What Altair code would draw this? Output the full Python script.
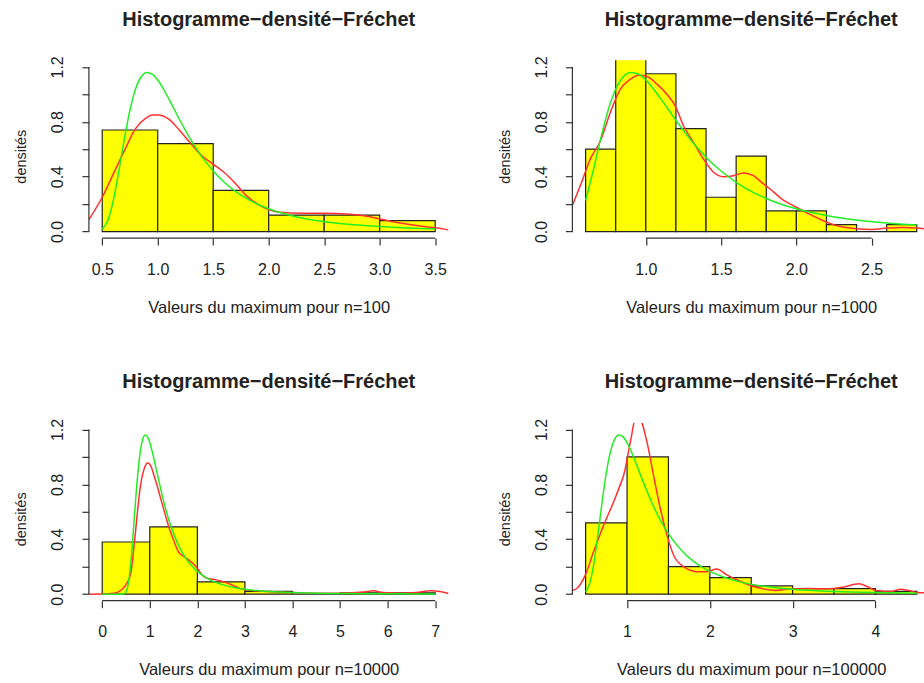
import altair as alt
import pandas as pd

FONT = "Liberation Sans"
TITLE = "Histogramme−densité−Fréchet"
Y_TITLE = "densités"

y_ticks = [0.0, 0.2, 0.4, 0.6, 0.8, 1.0, 1.2]
y_domain = [-0.048, 1.248]

# Green curve (theoretical density)
green_x = [0.0, 0.3, 0.4, 0.45, 0.5, 0.55, 0.6, 0.65, 0.7, 0.75, 0.8, 0.85, 0.9, 0.95, 1.0, 1.05,
           1.1, 1.2, 1.3, 1.4, 1.5, 1.6, 1.7, 1.8, 1.9, 2.0, 2.2, 2.4, 2.6, 2.8, 3.0, 3.25, 3.5,
           4.0, 4.5, 5.0, 5.5, 6.0, 6.5, 7.0]
green_y = [0.0, 0.0, 0.0, 0.001, 0.016, 0.080, 0.226, 0.441, 0.677, 0.886, 1.039, 1.128, 1.160,
           1.148, 1.104, 1.041, 0.967, 0.811, 0.666, 0.542, 0.441, 0.359, 0.293, 0.241, 0.199,
           0.166, 0.117, 0.084, 0.062, 0.047, 0.036, 0.026, 0.0195, 0.0115, 0.0072, 0.0048,
           0.0033, 0.0023, 0.0017, 0.0012]

# Panel 1 : n=100
p1_breaks = [0.5, 1.0, 1.5, 2.0, 2.5, 3.0, 3.5]
p1_dens = [0.74, 0.64, 0.30, 0.12, 0.12, 0.08]
p1_red_x = [0.38, 0.5, 0.6, 0.7, 0.8, 0.9, 0.95, 1.0, 1.1, 1.2, 1.3, 1.4, 1.5, 1.6, 1.7, 1.8,
            1.9, 2.0, 2.1, 2.3, 2.5, 2.7, 2.9, 3.0, 3.2, 3.4, 3.5, 3.62]
p1_red_y = [0.087, 0.25, 0.42, 0.59, 0.75, 0.83, 0.85, 0.85, 0.82, 0.735, 0.64, 0.55, 0.49, 0.43,
            0.35, 0.26, 0.20, 0.16, 0.14, 0.133, 0.133, 0.128, 0.11, 0.092, 0.06, 0.036, 0.027,
            0.012]
p1_xticks = [0.5, 1.0, 1.5, 2.0, 2.5, 3.0, 3.5]
p1_xdomain = [0.38, 3.62]

# Panel 2 : n=1000
p2_breaks = [0.6, 0.8, 1.0, 1.2, 1.4, 1.6, 1.8, 2.0, 2.2, 2.4, 2.6, 2.8]
p2_dens = [0.60, 1.30, 1.15, 0.75, 0.25, 0.55, 0.15, 0.15, 0.05, 0.0, 0.05]
p2_red_x = [0.512, 0.565, 0.631, 0.698, 0.764, 0.831, 0.897, 0.952, 1.008, 1.074, 1.14, 1.195,
            1.25, 1.317, 1.383, 1.45, 1.516, 1.582, 1.649, 1.715, 1.781, 1.826, 1.9, 2.0, 2.1,
            2.2, 2.3, 2.4, 2.5, 2.6, 2.7, 2.8, 2.85]
p2_red_y = [0.19, 0.335, 0.528, 0.66, 0.868, 1.038, 1.11, 1.139, 1.13, 1.074, 1.0, 0.916, 0.771,
            0.65, 0.528, 0.432, 0.40, 0.407, 0.427, 0.407, 0.347, 0.31, 0.24, 0.177, 0.12,
            0.068, 0.035, 0.02, 0.015, 0.025, 0.03, 0.025, 0.02]
p2_xticks = [1.0, 1.5, 2.0, 2.5]
p2_xdomain = [0.512, 2.848]

# Panel 3 : n=10000
p3_breaks = [0, 1, 2, 3, 4, 5, 6, 7]
p3_dens = [0.38, 0.49, 0.09, 0.02, 0.0, 0.01, 0.01]
p3_red_x = [-0.28, 0.0, 0.25, 0.4, 0.5, 0.6, 0.68, 0.8, 0.9, 0.95, 1.0, 1.1, 1.2, 1.3, 1.4, 1.5,
            1.6, 1.7, 1.8, 1.9, 2.0, 2.1, 2.2, 2.4, 2.6, 2.8, 3.0, 3.5, 4.0, 4.5, 5.0, 5.5, 5.7,
            5.9, 6.3, 6.6, 6.9, 7.1, 7.28]
p3_red_y = [0.0, 0.001, 0.007, 0.03, 0.07, 0.15, 0.39, 0.78, 0.93, 0.955, 0.946, 0.854, 0.733,
            0.61, 0.49, 0.394, 0.31, 0.278, 0.254, 0.225, 0.189, 0.14, 0.116, 0.104, 0.085,
            0.056, 0.031, 0.019, 0.012, 0.007, 0.007, 0.015, 0.024, 0.012, 0.007, 0.012, 0.024,
            0.019, 0.005]
p3_xticks = [0, 1, 2, 3, 4, 5, 6, 7]
p3_xdomain = [-0.28, 7.28]

# Panel 4 : n=100000
p4_breaks = [0.5, 1.0, 1.5, 2.0, 2.5, 3.0, 3.5, 4.0, 4.5]
p4_dens = [0.52, 1.00, 0.20, 0.12, 0.06, 0.04, 0.04, 0.02]
p4_red_x = [0.316, 0.397, 0.497, 0.597, 0.718, 0.838, 0.92, 0.959, 1.04, 1.12, 1.241, 1.32,
            1.402, 1.482, 1.562, 1.683, 1.844, 1.964, 2.085, 2.205, 2.4, 2.6, 2.8, 3.0, 3.2,
            3.4, 3.6, 3.8, 3.9, 4.0, 4.2, 4.3, 4.4, 4.5, 4.6]
p4_red_y = [0.024, 0.043, 0.14, 0.31, 0.503, 0.672, 0.80, 0.866, 1.108, 1.32, 1.108, 0.866,
            0.624, 0.43, 0.285, 0.2, 0.164, 0.164, 0.184, 0.14, 0.085, 0.044, 0.027, 0.039,
            0.041, 0.039, 0.05, 0.075, 0.056, 0.027, 0.02, 0.036, 0.027, 0.012, 0.01]
p4_xticks = [1, 2, 3, 4]
p4_xdomain = [0.34, 4.586]

AX = "#333333"


def panel(breaks, dens, rx, ry, xticks, xdomain, xlabel, width, fmt, full_width):
    bars = pd.DataFrame({"lo": breaks[:-1], "hi": breaks[1:], "d": dens})
    red = pd.DataFrame({"x": rx, "y": ry})
    lo, hi = breaks[0], breaks[-1]
    gpts = [(x, y) for x, y in zip(green_x, green_y) if lo - 1e-9 <= x <= hi + 1e-9]
    green = pd.DataFrame({"x": [p[0] for p in gpts], "y": [p[1] for p in gpts]})

    xs = alt.Scale(domain=xdomain, nice=False, zero=False)
    ys = alt.Scale(domain=y_domain, nice=False, zero=False)

    xaxis = alt.Axis(values=xticks, format=fmt, domain=False, grid=False, tickSize=7,
                     tickColor=AX, tickWidth=1.2, labelPadding=29, labelBaseline="alphabetic",
                     labelFont=FONT, labelFontSize=16, labelColor="#222", labelFlush=False,
                     labelOverlap=False, title=xlabel, titleFont=FONT, titleFontSize=16.5,
                     titleFontWeight="normal", titleColor="#222", titleBaseline="alphabetic",
                     titleY=74, titleX=full_width / 2, titleAlign="center")
    yaxis = alt.Axis(values=y_ticks, domain=False, grid=False, tickSize=7, tickColor=AX,
                     tickWidth=1.2, labelPadding=19, labelAngle=-90, labelAlign="center",
                     labelBaseline="alphabetic", labelFont=FONT, labelFontSize=16,
                     labelColor="#222", labelFlush=False, labelOverlap=False,
                     labelExpr="round(datum.value*10) % 4 == 0 ? format(datum.value, '.1f') : ''",
                     title=Y_TITLE, titleFont=FONT, titleFontSize=14.5, titleFontWeight="normal",
                     titleColor="#222", titleAngle=-90, titleBaseline="alphabetic",
                     titleAlign="center", titleX=-63, titleY=96)

    b = alt.Chart(bars).mark_rect(fill="#FFFF00", stroke="#222222", strokeWidth=1.2,
                                  clip=True).encode(
        x=alt.X("lo:Q", scale=xs, axis=xaxis),
        x2="hi:Q",
        y=alt.Y("d:Q", scale=ys, axis=yaxis),
        y2=alt.datum(0),
    )
    r = alt.Chart(red).mark_line(color="#FF3030", strokeWidth=1.5, clip=True,
                                 interpolate="monotone").encode(
        x=alt.X("x:Q", scale=xs, axis=xaxis), y=alt.Y("y:Q", scale=ys, axis=yaxis))
    g = alt.Chart(green).mark_line(color="#22EE22", strokeWidth=1.5, clip=True,
                                   interpolate="monotone").encode(
        x=alt.X("x:Q", scale=xs, axis=xaxis), y=alt.Y("y:Q", scale=ys, axis=yaxis))
    xl = alt.Chart(pd.DataFrame({"a": [xticks[0]], "b": [xticks[-1]], "c": [y_domain[0]]})).mark_rule(
        color=AX, strokeWidth=1.2).encode(
        x=alt.X("a:Q", scale=xs, axis=xaxis), x2="b:Q", y=alt.Y("c:Q", scale=ys, axis=yaxis))
    yl = alt.Chart(pd.DataFrame({"a": [xdomain[0]], "b": [y_ticks[0]], "c": [y_ticks[-1]]})).mark_rule(
        color=AX, strokeWidth=1.2).encode(
        x=alt.X("a:Q", scale=xs, axis=xaxis), y=alt.Y("b:Q", scale=ys, axis=yaxis), y2="c:Q")

    return alt.layer(b, r, g, xl, yl).properties(
        width=width, height=178,
        title=alt.TitleParams(TITLE, font=FONT, fontSize=20, fontWeight="bold", color="#222",
                              anchor="middle", frame="group", offset=26,
                              dx=(full_width - width) / 2),
    )


p1 = panel(p1_breaks, p1_dens, p1_red_x, p1_red_y, p1_xticks, p1_xdomain,
           "Valeurs du maximum pour n=100", 360, ".1f", 360)
p2 = panel(p2_breaks, p2_dens, p2_red_x, p2_red_y, p2_xticks, p2_xdomain,
           "Valeurs du maximum pour n=1000", 352, ".1f", 358)
p3 = panel(p3_breaks, p3_dens, p3_red_x, p3_red_y, p3_xticks, p3_xdomain,
           "Valeurs du maximum pour n=10000", 360, "d", 360)
p4 = panel(p4_breaks, p4_dens, p4_red_x, p4_red_y, p4_xticks, p4_xdomain,
           "Valeurs du maximum pour n=100000", 352, "d", 358)

chart = alt.concat(p1, p2, p3, p4, columns=2, spacing={"row": 185, "column": 124},
                   bounds="flush").properties(
    padding={"left": 14, "top": 9, "right": 0, "bottom": 5},
    background="white",
).configure_view(stroke=None)

chart.save("out.html", embed_options={"renderer": "svg", "actions": False})
